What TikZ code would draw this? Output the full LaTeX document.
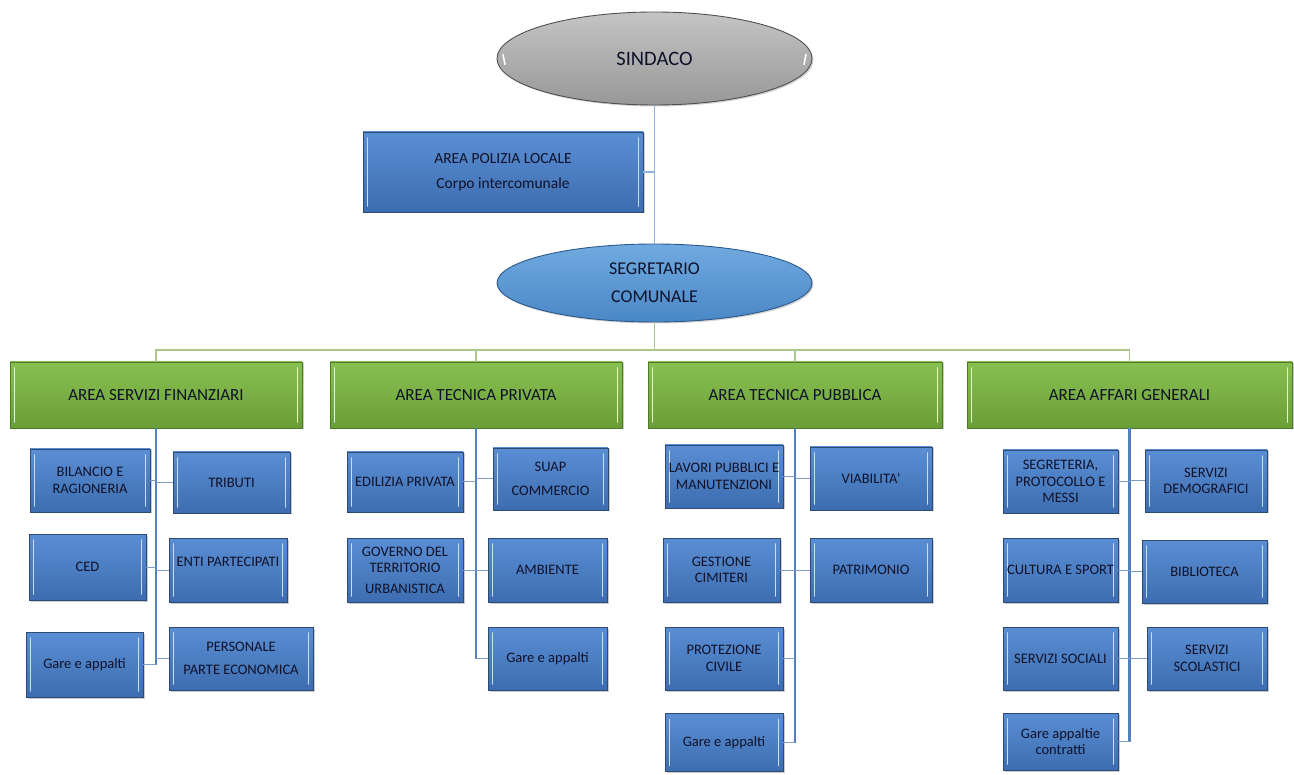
\documentclass[tikz,border=0pt]{standalone}
\usepackage{fontspec}
\setmainfont{Carlito}
\usetikzlibrary{shapes.geometric,shadows}
\definecolor{boxtop}{HTML}{5A8ED4}
\definecolor{boxbot}{HTML}{3D6DB0}
\definecolor{boxline}{HTML}{2B4A74}
\definecolor{boxhl}{HTML}{C9DDF5}
\definecolor{grtop}{HTML}{88C050}
\definecolor{grbot}{HTML}{6A9E38}
\definecolor{grline}{HTML}{4E7A2A}
\definecolor{grhl}{HTML}{E4F6C6}
\definecolor{sitop}{HTML}{C4C4C4}
\definecolor{sibot}{HTML}{989898}
\definecolor{siline}{HTML}{505050}
\definecolor{sgtop}{HTML}{70AAE0}
\definecolor{sgbot}{HTML}{4A87C6}
\definecolor{sgline}{HTML}{2C5A8C}
\definecolor{txt}{HTML}{10122A}
\definecolor{lineblue}{HTML}{8DB3E2}
\definecolor{busgreen}{HTML}{AAC88A}
\definecolor{colblue}{HTML}{5080C0}
\definecolor{subblue}{HTML}{7F9CC6}
\tikzset{
  bevel/.style={path picture={
    \draw[#1,line width=1.6pt,line cap=round]
      ([xshift=4.5pt,yshift=-6pt]path picture bounding box.north west) --
      ([xshift=4.5pt,yshift=6pt]path picture bounding box.south west);
    \draw[#1,line width=1.6pt,line cap=round]
      ([xshift=-4.5pt,yshift=-6pt]path picture bounding box.north east) --
      ([xshift=-4.5pt,yshift=6pt]path picture bounding box.south east);}},
  bbox/.style={draw=boxline, line width=0.8pt, top color=boxtop, bottom color=boxbot,
    bevel=boxhl, drop shadow={shadow xshift=1.5pt,shadow yshift=-1.5pt,opacity=0.4},
    align=center, font=\fontsize{14.5}{16.5}\selectfont, text=txt, inner sep=0pt},
  hbox/.style={draw=grline, line width=0.8pt, top color=grtop, bottom color=grbot,
    bevel=grhl, drop shadow={shadow xshift=1.5pt,shadow yshift=-1.5pt,opacity=0.4},
    align=center, font=\fontsize{17}{20}\selectfont, text=txt, inner sep=1pt,
    minimum height=66pt},
  oval/.style={ellipse, line width=0.9pt, inner sep=0pt, align=center, text=txt,
    drop shadow={shadow xshift=1.5pt,shadow yshift=-1.5pt,opacity=0.35}},
  topline/.style={draw=lineblue, line width=1.2pt},
  busline/.style={draw=busgreen, line width=1.6pt},
  colline/.style={draw=colblue, line width=2.2pt},
  subline/.style={draw=subblue, line width=1pt},
}
\begin{document}
\begin{tikzpicture}[x=1pt,y=-1pt]
\useasboundingbox (0,0) rectangle (1294,775);
% top
\node[oval, draw=siline, top color=sitop, bottom color=sibot,
  minimum width=315pt, minimum height=93pt, font=\fontsize{20.5}{24}\selectfont,
  path picture={
    \draw[white,line width=1.5pt,line cap=round] ([xshift=8pt,yshift=-6pt]path picture bounding box.west) -- ([xshift=6pt,yshift=4pt]path picture bounding box.west);
    \draw[white,line width=1.5pt,line cap=round] ([xshift=-8pt,yshift=-6pt]path picture bounding box.east) -- ([xshift=-6pt,yshift=4pt]path picture bounding box.east);}]
  (sind) at (654.5,58.5) {SINDACO};
\node[bbox, minimum width=280pt, minimum height=80pt, font=\fontsize{15.5}{18}\selectfont]
  (pol) at (503,172) {AREA POLIZIA LOCALE\\[7pt]Corpo intercomunale};
\node[oval, draw=sgline, top color=sgtop, bottom color=sgbot,
  minimum width=315pt, minimum height=78pt, font=\fontsize{18}{20}\selectfont]
  (sgc) at (654.5,283) {SEGRETARIO\\[8pt]COMUNALE};
% headers
\node[hbox, minimum width=292pt] (h1) at (156,395) {AREA SERVIZI FINANZIARI};
\node[hbox, minimum width=292pt] (h2) at (476,395) {AREA TECNICA PRIVATA};
\node[hbox, minimum width=294pt] (h3) at (795,395) {AREA TECNICA PUBBLICA};
\node[hbox, minimum width=325pt] (h4) at (1129.5,395) {AREA AFFARI GENERALI};
% column 1
\node[bbox, minimum width=120pt, minimum height=63pt] (bil) at (90,480.5) {BILANCIO E\\RAGIONERIA};
\node[bbox, minimum width=117pt, minimum height=61pt] (trib) at (231.5,482.5) {TRIBUTI};
\node[bbox, minimum width=117pt, minimum height=66pt] (ced) at (87.5,567) {CED};
\node[bbox, minimum width=118pt, minimum height=64pt] (enti) at (228,570) {ENTI PARTECIPATI\\\mbox{}};
\node[bbox, minimum width=117pt, minimum height=65pt] (gare1) at (84.5,664.5) {Gare e appalti};
\node[bbox, minimum width=144pt, minimum height=63pt] (pers) at (241,658.5) {PERSONALE\\[6pt]PARTE ECONOMICA};
% column 2
\node[bbox, minimum width=116pt, minimum height=60pt] (edil) at (405,482) {EDILIZIA PRIVATA};
\node[bbox, minimum width=115pt, minimum height=62pt] (suap) at (550.5,479) {SUAP\\[7pt]COMMERCIO};
\node[bbox, minimum width=116pt, minimum height=64pt] (gov) at (405,570) {GOVERNO DEL\\TERRITORIO\\[4pt]URBANISTICA};
\node[bbox, minimum width=119pt, minimum height=64pt] (amb) at (547.5,570) {AMBIENTE};
\node[bbox, minimum width=119pt, minimum height=63pt] (gare2) at (547.5,658.5) {Gare e appalti};
% column 3
\node[bbox, minimum width=118pt, minimum height=63pt] (lav) at (724,476.5) {LAVORI PUBBLICI E\\MANUTENZIONI};
\node[bbox, minimum width=122pt, minimum height=63pt] (viab) at (871,478.5) {VIABILITA'};
\node[bbox, minimum width=117pt, minimum height=64pt] (gest) at (721.5,570) {GESTIONE\\CIMITERI};
\node[bbox, minimum width=122pt, minimum height=64pt] (patr) at (871,570) {PATRIMONIO};
\node[bbox, minimum width=118pt, minimum height=63pt] (prot) at (724,658.5) {PROTEZIONE\\CIVILE};
\node[bbox, minimum width=118pt, minimum height=58pt] (gare3) at (724,742.5) {Gare e appalti};
% column 4
\node[bbox, minimum width=115pt, minimum height=63pt] (segrt) at (1060.5,481.5) {SEGRETERIA,\\PROTOCOLLO E\\MESSI};
\node[bbox, minimum width=122pt, minimum height=62pt] (demo) at (1206,481) {SERVIZI\\DEMOGRAFICI};
\node[bbox, minimum width=115pt, minimum height=64pt] (cult) at (1060.5,570) {CULTURA E SPORT};
\node[bbox, minimum width=125pt, minimum height=63pt] (bibl) at (1204.5,571.5) {BIBLIOTECA};
\node[bbox, minimum width=115pt, minimum height=63pt] (soc) at (1060.5,658.5) {SERVIZI SOCIALI};
\node[bbox, minimum width=120pt, minimum height=63pt] (scol) at (1207,658.5) {SERVIZI\\SCOLASTICI};
\node[bbox, minimum width=115pt, minimum height=57pt] (gare4) at (1060.5,741.5) {Gare appaltie\\contratti};
% connectors top
\draw[topline] (sind.south) -- (sgc.north);
\draw[topline] (pol.east) -- (pol.east -| sind.south);
\coordinate (bus) at (654.5,350);
\draw[busline] (sgc.south) -- (bus);
\draw[busline] (h1.north) |- (bus) -| (h4.north);
\draw[busline] (h2.north) -- (h2.north |- bus);
\draw[busline] (h3.north) -- (h3.north |- bus);
% column 1
\draw[colline] (h1.south) -- (h1.south |- gare1.east);
\foreach \n in {bil,ced,gare1} \draw[subline] (\n.east) -- (\n.east -| h1.south);
\foreach \n in {trib,enti,pers} \draw[subline] (\n.west) -- (\n.west -| h1.south);
% column 2
\draw[colline] (h2.south) -- (h2.south |- gare2.west);
\foreach \n in {edil,gov} \draw[subline] (\n.east) -- (\n.east -| h2.south);
\foreach \n in {suap,amb,gare2} \draw[subline] (\n.west) -- (\n.west -| h2.south);
% column 3
\draw[colline] (h3.south) -- (h3.south |- gare3.east);
\foreach \n in {lav,gest,prot,gare3} \draw[subline] (\n.east) -- (\n.east -| h3.south);
\foreach \n in {viab,patr} \draw[subline] (\n.west) -- (\n.west -| h3.south);
% column 4
\draw[colline] (h4.south) -- (h4.south |- gare4.east);
\foreach \n in {segrt,cult,soc,gare4} \draw[subline] (\n.east) -- (\n.east -| h4.south);
\foreach \n in {demo,bibl,scol} \draw[subline] (\n.west) -- (\n.west -| h4.south);
\end{tikzpicture}
\end{document}
